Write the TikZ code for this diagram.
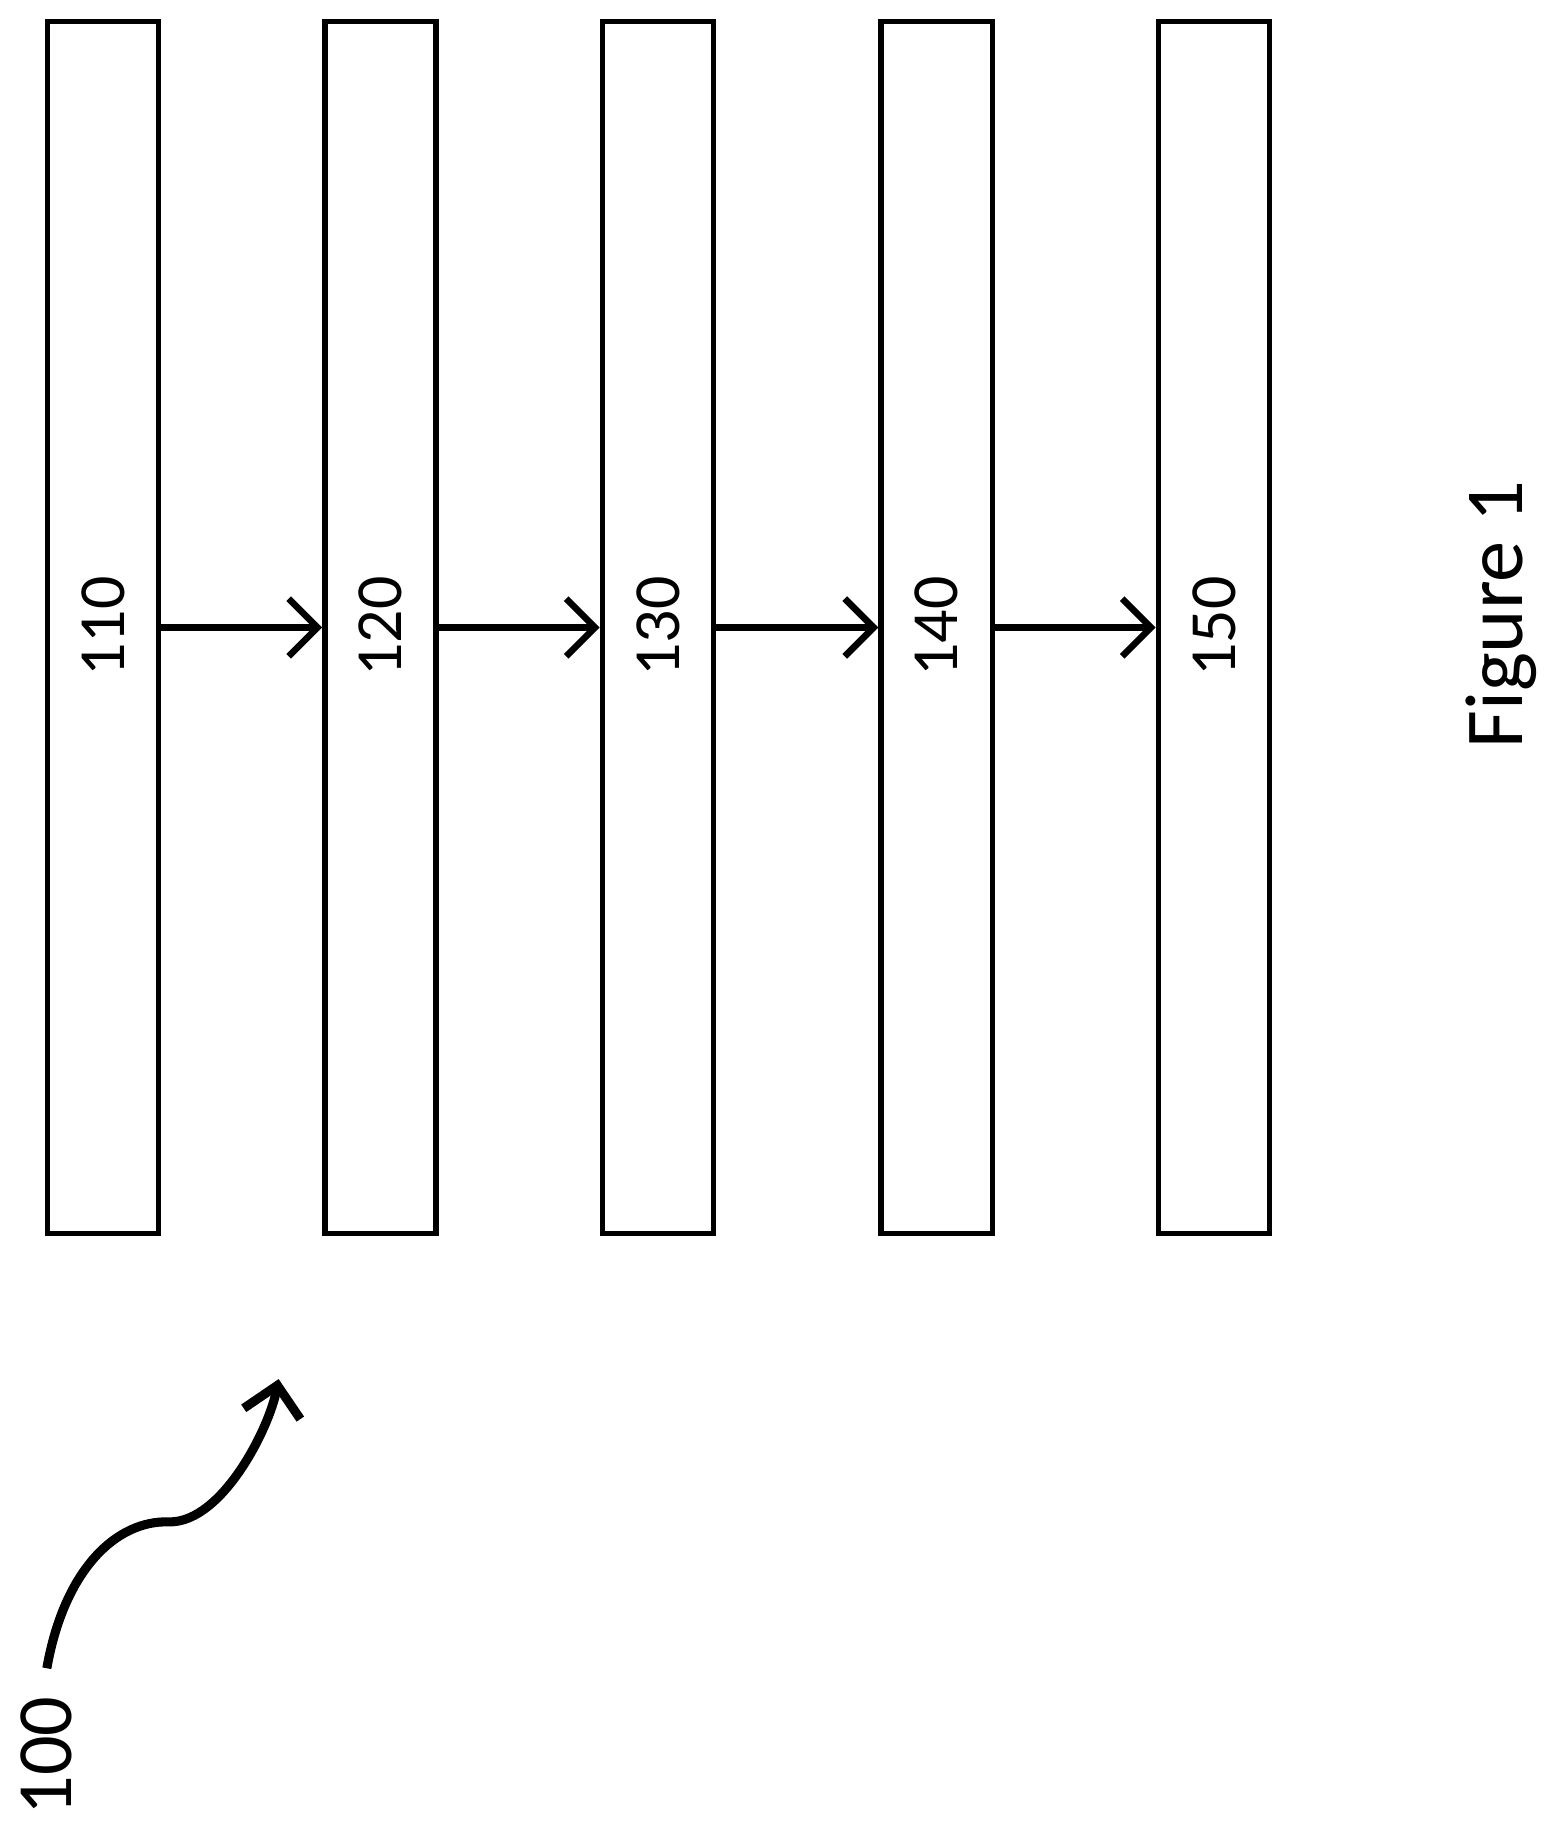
\documentclass[tikz,border=0pt]{standalone}
\usepackage{fontspec}
\setmainfont{Carlito}
\usetikzlibrary{arrows.meta}
\begin{document}
\begin{tikzpicture}[x=0.01cm,y=-0.01cm,
  layer/.style={draw,line width=1.3pt,minimum width=0.95cm,minimum height=10.35cm,inner sep=0pt},
  flow/.style={-{Straight Barb[length=7pt,width=14pt]},line width=1.6pt}]
\useasboundingbox (0,0) rectangle (1330,1570);
\foreach \n/\x in {110/88,120/325,130/562,140/800,150/1037}
	\node[layer] (b\n) at (\x,536) {};
\foreach \n/\x in {110/88,120/325,130/562,140/800,150/1037}
	\node[rotate=90,font=\fontsize{16pt}{18pt}\selectfont] (t\n) at (\x,535) {\n};
\draw[flow] (b110.east) -- (b120.west);
\draw[flow] (b120.east) -- (b130.west);
\draw[flow] (b130.east) -- (b140.west);
\draw[flow] (b140.east) -- (b150.west);
\coordinate (s) at (40,1425);
\coordinate (e) at (238,1178);
\draw[flow,line width=2.2pt] (s) .. controls (55,1340) and (100,1298) .. (145,1300) .. controls (190,1300) and (230,1220) .. (e);
\node[rotate=90,font=\fontsize{19pt}{22pt}\selectfont] (ref) at (40,1500) {100};
\node[rotate=90,font=\fontsize{20pt}{24pt}\selectfont] (fig) at (1282,525) {Figure 1};
\end{tikzpicture}
\end{document}
